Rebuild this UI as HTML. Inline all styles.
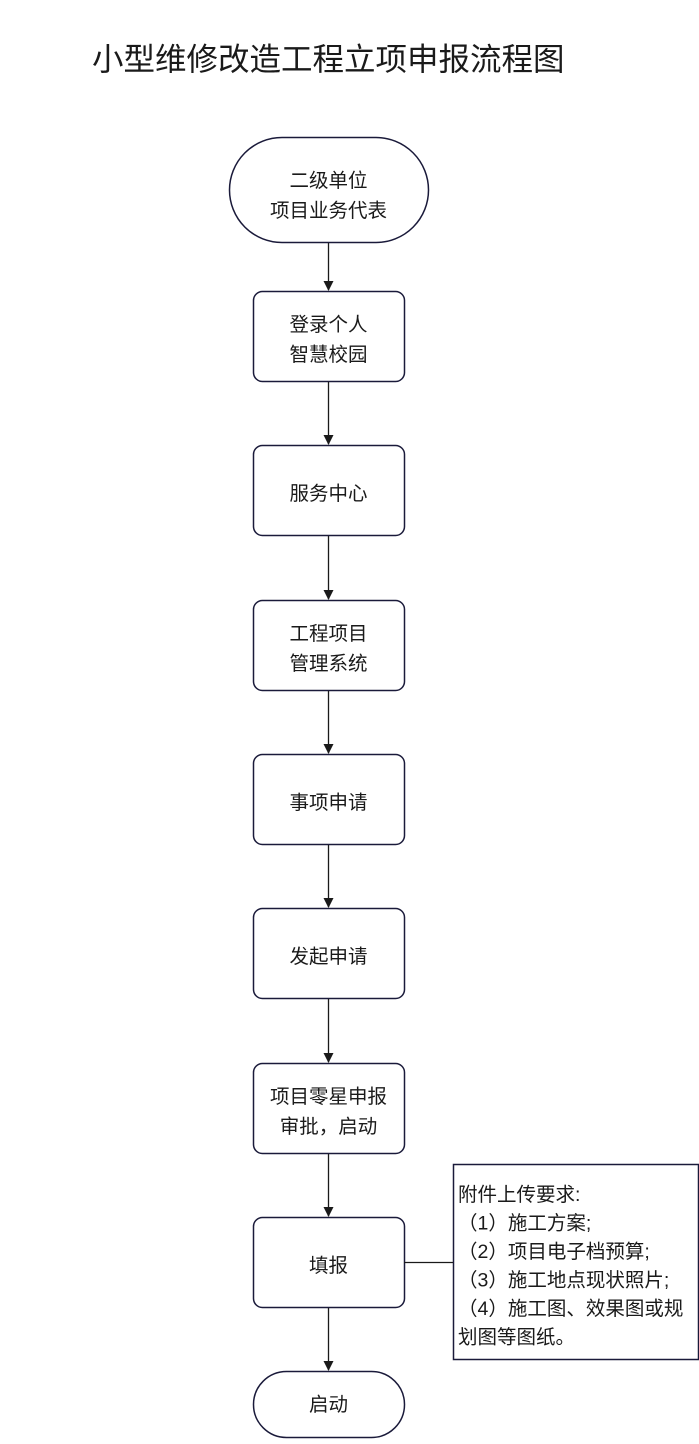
<!DOCTYPE html>
<html><head><meta charset="utf-8"><style>
body{margin:0;background:#fff;}
svg text{font-family:"Liberation Sans","Noto Sans CJK SC",sans-serif;fill:#1a1a1a;}
</style></head><body>
<svg width="699" height="1439" viewBox="0 0 699 1439" xmlns="http://www.w3.org/2000/svg">
<defs><marker id="a" markerWidth="10" markerHeight="10" refX="9" refY="5" orient="auto" markerUnits="userSpaceOnUse"><path d="M0,0 L10,5 L0,10 z" fill="#1a1a1a"/></marker></defs>
<text x="92" y="70" font-size="31.5">小型维修改造工程立项申报流程图</text>
<g fill="none" stroke="#1a1a3a" stroke-width="1.5">
<rect x="229.5" y="137.5" width="199" height="105" rx="52.5"/>
<rect x="253.5" y="291.5" width="151" height="90" rx="9"/>
<rect x="253.5" y="445.5" width="151" height="90" rx="9"/>
<rect x="253.5" y="600.5" width="151" height="90" rx="9"/>
<rect x="253.5" y="754.5" width="151" height="90" rx="9"/>
<rect x="253.5" y="908.5" width="151" height="90" rx="9"/>
<rect x="253.5" y="1063.5" width="151" height="90" rx="9"/>
<rect x="253.5" y="1217.5" width="151" height="90" rx="9"/>
<rect x="253.5" y="1371.5" width="151" height="66" rx="33"/>
<rect x="453.5" y="1164.5" width="245" height="195"/>
</g>
<g stroke="#1a1a1a" stroke-width="1.3" marker-end="url(#a)">
<line x1="328.5" y1="243" x2="328.5" y2="290"/>
<line x1="328.5" y1="382" x2="328.5" y2="444"/>
<line x1="328.5" y1="536" x2="328.5" y2="599"/>
<line x1="328.5" y1="691" x2="328.5" y2="753"/>
<line x1="328.5" y1="845" x2="328.5" y2="907"/>
<line x1="328.5" y1="999" x2="328.5" y2="1062"/>
<line x1="328.5" y1="1154" x2="328.5" y2="1216"/>
<line x1="328.5" y1="1308" x2="328.5" y2="1370"/>
</g>
<line x1="404" y1="1262.5" x2="453" y2="1262.5" stroke="#1a1a1a" stroke-width="1.3"/>
<g font-size="19.5" text-anchor="middle">
<text x="328.5" y="187">二级单位</text><text x="328.5" y="217">项目业务代表</text>
<text x="328.5" y="331">登录个人</text><text x="328.5" y="361">智慧校园</text>
<text x="328.5" y="500">服务中心</text>
<text x="328.5" y="640">工程项目</text><text x="328.5" y="670">管理系统</text>
<text x="328.5" y="809">事项申请</text>
<text x="328.5" y="963">发起申请</text>
<text x="328.5" y="1103">项目零星申报</text><text x="328.5" y="1133">审批，启动</text>
<text x="328.5" y="1272">填报</text>
<text x="328.5" y="1411">启动</text>
</g>
<g font-size="19.5">
<text x="458" y="1201">附件上传要求:</text>
<text x="458" y="1229.5">（1）施工方案;</text>
<text x="458" y="1258">（2）项目电子档预算;</text>
<text x="458" y="1286.5">（3）施工地点现状照片;</text>
<text x="458" y="1315">（4）施工图、效果图或规</text>
<text x="458" y="1343.5">划图等图纸。</text>
</g>
</svg>
</body></html>
